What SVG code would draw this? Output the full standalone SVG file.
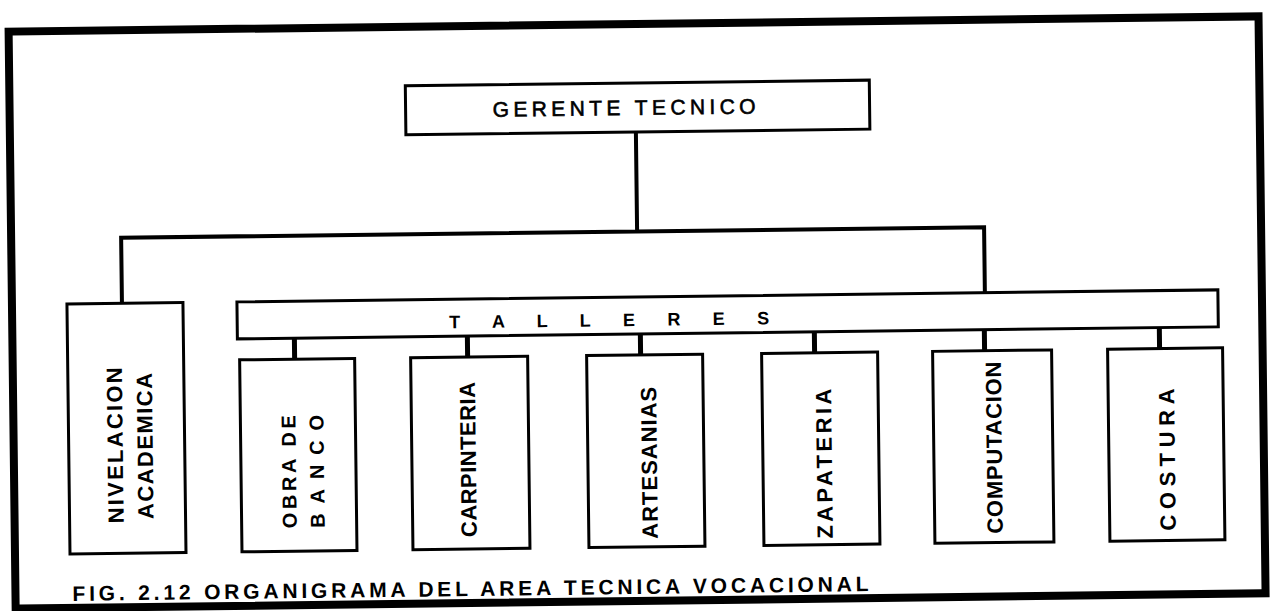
<svg xmlns="http://www.w3.org/2000/svg" width="1271" height="611" viewBox="0 0 1271 611">
<style>
.box{fill:#fff;stroke:#000;stroke-width:3}
.lbl{font-family:"Liberation Sans",Arial,sans-serif;font-weight:bold;font-size:22px;fill:#000}
.cap{font-family:"Liberation Sans",Arial,sans-serif;font-weight:bold;font-size:18px;fill:#000}
.conn{fill:none;stroke:#000;stroke-width:4;stroke-linejoin:miter;stroke-linecap:square}
.stub{fill:none;stroke:#000;stroke-width:5}
</style>
<rect width="1271" height="611" fill="#fff"/>
<g transform="rotate(-0.7 635 305)">
<rect id="frame" x="12" y="24" width="1250" height="577" fill="none" stroke="#000" stroke-width="8"/>

<g id="connectors">
<path class="conn" d="M638,132 V231.5 M122,297 V231.5 H985 V297"/>
<path class="stub" d="M294,334 V355 M467,334 V355 M640,334 V355 M814,334 V355 M984,334 V355 M1159,334 V355"/>
</g>

<g id="gerente">
<rect class="box" x="408" y="83" width="464" height="49"/>
<text class="lbl" x="495" y="115" style="font-weight:normal;font-size:21px" stroke="#000" stroke-width="0.6" textLength="263" lengthAdjust="spacing">GERENTE  TECNICO</text>
</g>

<g id="nivelacion">
<rect class="box" x="67" y="297" width="116" height="250"/>
<text class="lbl" transform="translate(121,517) rotate(-90)" textLength="156" lengthAdjust="spacing">NIVELACION</text>
<text class="lbl" transform="translate(151,513) rotate(-90)" textLength="146" lengthAdjust="spacing">ACADEMICA</text>
</g>

<g id="talleres">
<rect class="box" x="237" y="297" width="981" height="37"/>
<text class="cap" x="449" y="326" textLength="320" lengthAdjust="spacing">T A L L E R E S</text>
</g>

<g id="obra">
<rect class="box" x="239" y="355" width="115" height="192"/>
<text class="lbl" transform="translate(294,524) rotate(-90)" style="font-size:20px" textLength="113" lengthAdjust="spacing">OBRA DE</text>
<text class="lbl" transform="translate(322,524) rotate(-90)" style="font-size:20px" textLength="113" lengthAdjust="spacing">BANCO</text>
</g>

<g id="carpinteria">
<rect class="box" x="410" y="355" width="117" height="192"/>
<text class="lbl" transform="translate(474,535) rotate(-90)" textLength="155" lengthAdjust="spacing">CARPINTERIA</text>
</g>

<g id="artesanias">
<rect class="box" x="586" y="355" width="116" height="192"/>
<text class="lbl" transform="translate(655,539) rotate(-90)" textLength="152" lengthAdjust="spacing">ARTESANIAS</text>
</g>

<g id="zapateria">
<rect class="box" x="761" y="355" width="116" height="192"/>
<text class="lbl" transform="translate(830,541) rotate(-90)" textLength="150" lengthAdjust="spacing">ZAPATERIA</text>
</g>

<g id="computacion">
<rect class="box" x="932" y="355" width="119" height="192"/>
<text class="lbl" transform="translate(1000,538) rotate(-90)" textLength="172" lengthAdjust="spacing">COMPUTACION</text>
</g>

<g id="costura">
<rect class="box" x="1107" y="355" width="115" height="192"/>
<text class="lbl" transform="translate(1173,537) rotate(-90)" textLength="142" lengthAdjust="spacing">COSTURA</text>
</g>

<text id="caption" class="cap" x="69" y="594" style="font-size:21px" textLength="796" lengthAdjust="spacing">FIG. 2.12 ORGANIGRAMA  DEL AREA TECNICA VOCACIONAL</text>
</g>
</svg>
